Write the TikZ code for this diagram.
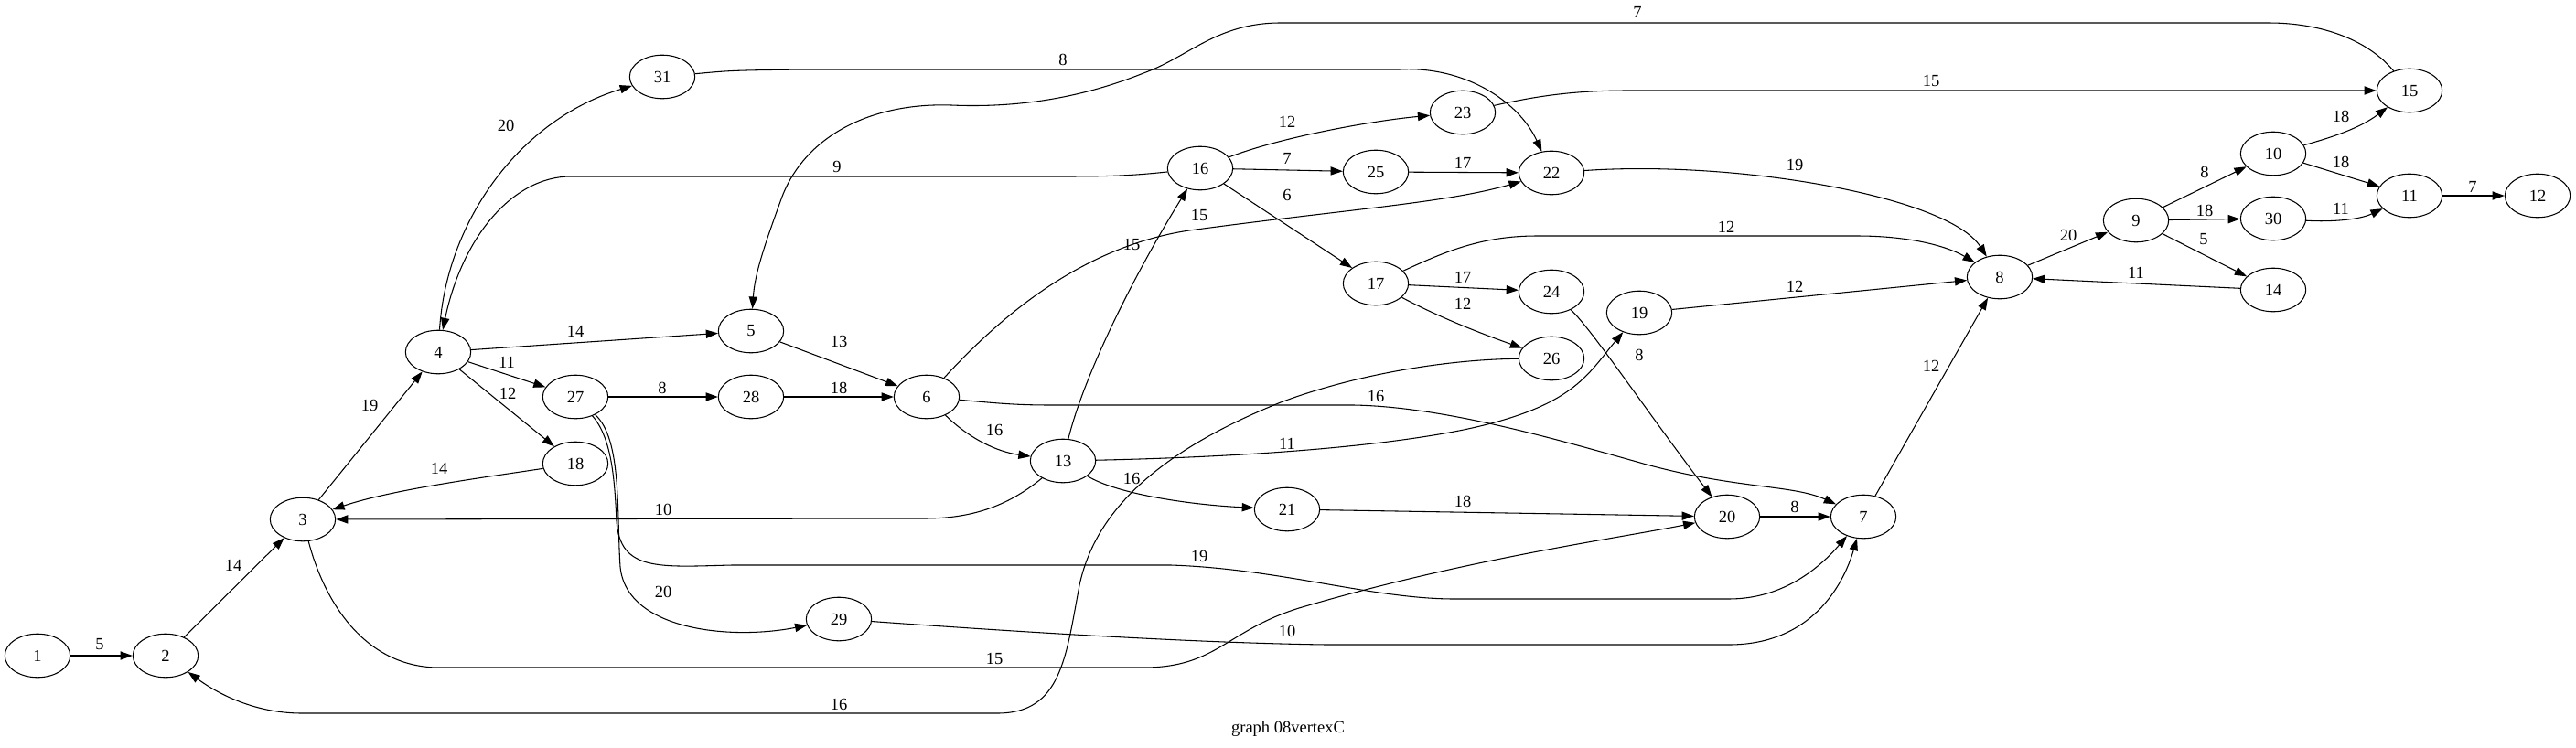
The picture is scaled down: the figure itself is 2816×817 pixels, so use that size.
\documentclass[tikz,border=0pt]{standalone}
\usepackage{fontspec}
\setmainfont{Liberation Serif}
\usetikzlibrary{arrows.meta,shapes.geometric}

\begin{document}
\begin{tikzpicture}[x=0.0266cm, y=-0.0266cm,
    vtx/.style={draw, ellipse, minimum width=54pt, minimum height=36pt, inner sep=0pt, line width=0.8pt, font=\fontsize{14}{16}\selectfont},
    wt/.style={inner sep=1pt, font=\fontsize{14}{16}\selectfont},
    arr/.style={-{Triangle[length=10pt,width=7pt]}, line width=0.8pt}]
  \useasboundingbox (0,0) rectangle (2816,817);

  \node[vtx] (1) at (41,717) {1};
  \node[vtx] (2) at (181,717) {2};
  \node[vtx] (3) at (331,568) {3};
  \node[vtx] (4) at (479,385) {4};
  \node[vtx] (5) at (821,362) {5};
  \node[vtx] (6) at (1013,434) {6};
  \node[vtx] (7) at (2037,565) {7};
  \node[vtx] (8) at (2186,303) {8};
  \node[vtx] (9) at (2335,241) {9};
  \node[vtx] (10) at (2485,168) {10};
  \node[vtx] (11) at (2634,214) {11};
  \node[vtx] (12) at (2774,214) {12};
  \node[vtx] (13) at (1162,504) {13};
  \node[vtx] (14) at (2485,317) {14};
  \node[vtx] (15) at (2634,99) {15};
  \node[vtx] (16) at (1312,184) {16};
  \node[vtx] (17) at (1504,310) {17};
  \node[vtx] (18) at (629,507) {18};
  \node[vtx] (19) at (1792,342) {19};
  \node[vtx] (20) at (1888,565) {20};
  \node[vtx] (21) at (1407,557) {21};
  \node[vtx] (22) at (1696,189) {22};
  \node[vtx] (23) at (1599,123) {23};
  \node[vtx] (24) at (1696,319) {24};
  \node[vtx] (25) at (1504,188) {25};
  \node[vtx] (26) at (1696,392) {26};
  \node[vtx] (27) at (629,434) {27};
  \node[vtx] (28) at (821,434) {28};
  \node[vtx] (29) at (917,677) {29};
  \node[vtx] (30) at (2485,239) {30};
  \node[vtx] (31) at (724,84) {31};

  \path[arr]
  (1) edge (2)
  (2) edge (3)
  (3) edge (4)
  (4) edge (5)
  (4) edge (27)
  (4) edge (18)
  (5) edge (6)
  (27) edge (28)
  (28) edge (6)
  (16) edge (25)
  (16) edge (17)
  (25) edge (22)
  (17) edge (24)
  (19) edge (8)
  (21) edge (20)
  (20) edge (7)
  (7) edge (8)
  (8) edge (9)
  (9) edge (10)
  (9) edge (30)
  (9) edge (14)
  (14) edge (8)
  (10) edge (11)
  (11) edge (12);

  \draw[arr] (18) .. controls (530,522) and (430,535) .. (3);
  \draw[arr] (4) .. controls (488,240) and (570,130) .. (31);
  \draw[arr] (16) .. controls (1230,193) and (1200,193) .. (1150,193) -- (624,193) .. controls (560,193) and (505,260) .. (4);
  \draw[arr] (31) .. controls (800,77) .. (880,76) -- (1530,76) .. controls (1600,72) and (1660,110) .. (22);
  \draw[arr] (15) .. controls (2590,45) and (2540,25) .. (2480,25) -- (1400,25) .. controls (1330,25) and (1300,62) .. (1250,80) .. controls (1180,108) and (1110,118) .. (1040,115) .. controls (950,112) and (880,150) .. (855,215) .. controls (835,270) and (825,300) .. (5);
  \draw[arr] (6) .. controls (1090,350) and (1180,270) .. (1300,252) .. controls (1480,228) and (1580,222) .. (22);
  \draw[arr] (13) .. controls (1185,410) and (1240,300) .. (16);
  \draw[arr] (6) .. controls (1060,480) and (1090,494) .. (13);
  \draw[arr] (6) .. controls (1090,441) and (1110,443) .. (1150,443) -- (1480,443) .. controls (1580,445) and (1700,480) .. (1800,508) .. controls (1900,535) and (1960,530) .. (7);
  \draw[arr] (13) .. controls (1100,555) and (1060,567) .. (1010,567) -- (3);
  \draw[arr] (13) .. controls (1220,540) and (1300,552) .. (21);
  \draw[arr] (13) .. controls (1350,500) and (1500,490) .. (1600,470) .. controls (1720,445) and (1735,410) .. (19);
  \draw[arr] (27) .. controls (670,480) and (672,530) .. (674,570) .. controls (678,625) and (720,620) .. (800,618) -- (1280,618) .. controls (1400,622) and (1500,655) .. (1590,655) -- (1890,655) .. controls (1950,655) and (1990,620) .. (7);
  \draw[arr] (27) .. controls (680,480) and (674,560) .. (678,620) .. controls (685,690) and (800,700) .. (29);
  \draw[arr] (3) .. controls (355,660) and (400,730) .. (480,730) -- (1250,730) .. controls (1330,730) and (1340,690) .. (1420,665) .. controls (1600,612) and (1760,590) .. (20);
  \draw[arr] (26) .. controls (1580,393) and (1480,410) .. (1400,440) .. controls (1250,500) and (1195,570) .. (1180,640) .. controls (1165,720) and (1160,780) .. (1090,780) -- (330,780) .. controls (280,780) and (240,760) .. (2);
  \draw[arr] (29) .. controls (1100,690) and (1300,703) .. (1450,705) -- (1890,705) .. controls (1980,705) and (2015,640) .. (7);
  \draw[arr] (16) .. controls (1400,150) and (1500,132) .. (23);
  \draw[arr] (23) .. controls (1680,105) and (1720,99) .. (1780,99) -- (15);
  \draw[arr] (22) .. controls (1900,175) and (2130,215) .. (8);
  \draw[arr] (17) .. controls (1580,275) and (1620,258) .. (1680,258) -- (2030,258) .. controls (2090,258) and (2130,270) .. (8);
  \draw[arr] (17) .. controls (1560,340) and (1600,358) .. (26);
  \draw[arr] (24) .. controls (1740,360) and (1800,450) .. (20);
  \draw[arr] (10) .. controls (2550,150) and (2580,140) .. (15);
  \draw[arr] (30) .. controls (2550,243) and (2580,240) .. (11);

  \node[wt] (w-1-2) at (109,705) {5};
  \node[wt] (w-2-3) at (255,618) {14};
  \node[wt] (w-3-4) at (404,443) {19};
  \node[wt] (w-18-3) at (480,512) {14};
  \node[wt] (w-4-31) at (553,137) {20};
  \node[wt] (w-4-5) at (629,362) {14};
  \node[wt] (w-4-27) at (554,396) {11};
  \node[wt] (w-4-18) at (555,430) {12};
  \node[wt] (w-16-4) at (915,182) {9};
  \node[wt] (w-31-22) at (1162,65) {8};
  \node[wt] (w-15-5) at (1790,13) {7};
  \node[wt] (w-5-6) at (917,373) {13};
  \node[wt] (w-27-28) at (724,424) {8};
  \node[wt] (w-28-6) at (917,424) {18};
  \node[wt] (w-6-22) at (1311,235) {15};
  \node[wt] (w-13-16) at (1237,267) {15};
  \node[wt] (w-6-13) at (1087,470) {16};
  \node[wt] (w-6-7) at (1504,433) {16};
  \node[wt] (w-13-3) at (725,557) {10};
  \node[wt] (w-13-21) at (1237,523) {16};
  \node[wt] (w-13-19) at (1407,485) {11};
  \node[wt] (w-27-7) at (1311,608) {19};
  \node[wt] (w-27-29) at (725,647) {20};
  \node[wt] (w-3-20) at (1087,720) {15};
  \node[wt] (w-26-2) at (917,770) {16};
  \node[wt] (w-29-7) at (1407,690) {10};
  \node[wt] (w-21-20) at (1599,548) {18};
  \node[wt] (w-20-7) at (1962,554) {8};
  \node[wt] (w-16-23) at (1407,133) {12};
  \node[wt] (w-16-25) at (1407,173) {7};
  \node[wt] (w-16-17) at (1407,213) {6};
  \node[wt] (w-25-22) at (1599,178) {17};
  \node[wt] (w-22-8) at (1962,180) {19};
  \node[wt] (w-17-8) at (1887,248) {12};
  \node[wt] (w-17-24) at (1599,303) {17};
  \node[wt] (w-17-26) at (1599,332) {12};
  \node[wt] (w-19-8) at (1962,313) {12};
  \node[wt] (w-24-20) at (1792,388) {8};
  \node[wt] (w-23-15) at (2111,88) {15};
  \node[wt] (w-7-8) at (2111,400) {12};
  \node[wt] (w-8-9) at (2261,257) {20};
  \node[wt] (w-9-10) at (2410,188) {8};
  \node[wt] (w-9-30) at (2410,230) {18};
  \node[wt] (w-9-14) at (2409,262) {5};
  \node[wt] (w-14-8) at (2335,298) {11};
  \node[wt] (w-10-15) at (2559,127) {18};
  \node[wt] (w-10-11) at (2559,177) {18};
  \node[wt] (w-30-11) at (2559,228) {11};
  \node[wt] (w-11-12) at (2703,204) {7};

  \node[wt] (title) at (1408,797) {graph 08vertexC};
\end{tikzpicture}
\end{document}
